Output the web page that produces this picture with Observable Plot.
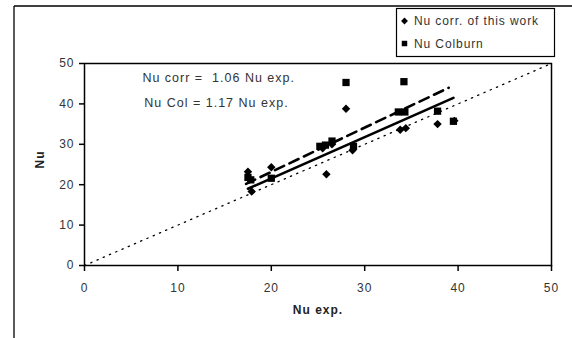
<!DOCTYPE html>
<html><head><meta charset="utf-8">
<script src="https://cdn.jsdelivr.net/npm/d3@7"></script>
<script src="https://cdn.jsdelivr.net/npm/@observablehq/plot@0.6"></script>
<style>
body{margin:0;background:#fff;}
#chart{width:572px;height:338px;}
</style></head><body><div id="chart"></div>
<script>
// Nu corr. of this work (diamonds)
const corrExp = [17.5, 17.9, 20.0, 25.9, 25.5, 26.5, 28.0, 28.7, 33.8, 34.4, 37.8, 39.6];
const corrNu  = [23.2, 18.3, 24.3, 22.6, 29.0, 30.0, 38.8, 28.5, 33.6, 34.0, 35.0, 35.8];
// Nu Colburn (squares)
const colExp = [17.5, 17.8, 20.0, 25.2, 25.8, 26.5, 28.0, 28.8, 33.6, 34.3, 34.2, 37.8, 39.5];
const colNu  = [21.8, 21.2, 21.6, 29.5, 29.8, 30.8, 45.3, 29.5, 38.0, 38.0, 45.5, 38.2, 35.7];
// trend lines (end points) and the 1:1 line
const fitCorrExp = [17.5, 39.5];
const fitCorrNu  = [19.0, 41.5];
const fitColExp  = [17.3, 39.0];
const fitColNu   = [20.2, 44.0];
const diagExp = [0, 50];
const diagNu  = [0, 50];
const ticks = [0, 10, 20, 30, 40, 50];
const legendLabels = ["Nu corr. of this work", "Nu Colburn"];
const annotations = ["Nu corr =  1.06 Nu exp.", "Nu Col = 1.17 Nu exp."];
const xLabel = "Nu exp.";
const yLabel = "Nu";

const corr = corrExp.map((x, i) => ({x, y: corrNu[i]}));
const col = colExp.map((x, i) => ({x, y: colNu[i]}));
const fitCorr = fitCorrExp.map((x, i) => ({x, y: fitCorrNu[i]}));
const fitCol = fitColExp.map((x, i) => ({x, y: fitColNu[i]}));
const diag = diagExp.map((x, i) => ({x, y: diagNu[i]}));

const plot = Plot.plot({
  width: 572,
  height: 338,
  marginLeft: 84,
  marginRight: 21,
  marginTop: 63,
  marginBottom: 73,
  style: {fontFamily: "'Liberation Sans', Arial, sans-serif", fontSize: "12px", color: "#333", background: "#fff", letterSpacing: "1px"},
  x: {domain: [0, 50]},
  y: {domain: [0, 50]},
  marks: [
    Plot.axisX(ticks, {tickSize: 6, tickPadding: 12, stroke: "#000", strokeWidth: 1.5, strokeOpacity: 1, fill: "#333", label: null}),
    Plot.axisY(ticks, {tickSize: 5, tickPadding: 5, stroke: "#000", strokeWidth: 1.5, strokeOpacity: 1, fill: "#333", label: null}),
    Plot.line(diag, {x: "x", y: "y", stroke: "#000", strokeWidth: 1.3, strokeDasharray: "1.3,5.5"}),
    Plot.line(fitCol, {x: "x", y: "y", stroke: "#000", strokeWidth: 2.6, strokeDasharray: "10,6"}),
    Plot.line(fitCorr, {x: "x", y: "y", stroke: "#000", strokeWidth: 2.6}),
    Plot.dot(col, {x: "x", y: "y", symbol: "square", r: 4.1, fill: "#000", stroke: "none"}),
    Plot.dot(corr, {x: "x", y: "y", symbol: "diamond2", r: 3.8, fill: "#000", stroke: "none"}),
    Plot.text(annotations, {x: [6.2, 6.4], y: [46.4, 40.2], text: d => d, textAnchor: "start", fontSize: 12.5, fill: "#333"}),
    Plot.text([xLabel], {frameAnchor: "bottom", dy: 48, fontWeight: "bold", fontSize: 12, fill: "#222"}),
    Plot.text([yLabel], {frameAnchor: "left", dx: -44, dy: 4, rotate: -90, fontWeight: "bold", fontSize: 12, fill: "#222"}),
    Plot.frame({stroke: "#000", strokeWidth: 1.5})
  ]
});
document.getElementById("chart").appendChild(plot);

// outer chart-area border (top and left) and the legend box
const svg = d3.select(plot);
svg.append("line").attr("x1", 14).attr("x2", 572).attr("y1", 6).attr("y2", 6).attr("stroke", "#000").attr("stroke-width", 1.3);
svg.append("line").attr("x1", 14).attr("x2", 14).attr("y1", 6).attr("y2", 338).attr("stroke", "#000").attr("stroke-width", 1.3);
const lg = svg.append("g").attr("text-anchor", "start");
lg.append("rect").attr("x", 396.5).attr("y", 8.5).attr("width", 158).attr("height", 48).attr("fill", "#fff").attr("stroke", "#000").attr("stroke-width", 1.2);
const syms = [d3.symbolDiamond2, d3.symbolSquare];
const sizes = [30, 30];
legendLabels.forEach((t, i) => {
  const cy = 21 + i * 22.5;
  lg.append("path").attr("transform", `translate(${404.5},${cy})`).attr("d", d3.symbol(syms[i], sizes[i])()).attr("fill", "#000");
  lg.append("text").attr("x", 414).attr("y", cy).attr("dy", "0.35em").attr("text-anchor", "start").attr("fill", "#333").attr("font-size", 12).attr("letter-spacing", "0.9px").text(t);
});
</script></body></html>
